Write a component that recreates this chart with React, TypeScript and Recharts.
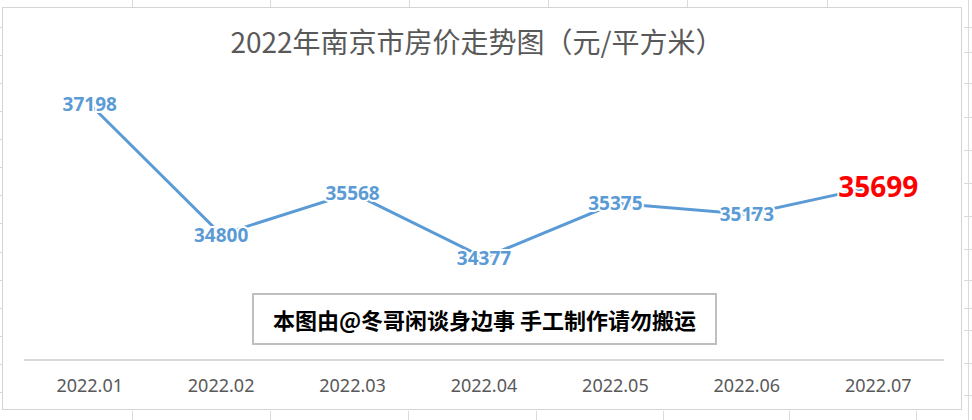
import React from 'react';
import { LineChart, Line, XAxis, YAxis, LabelList } from 'recharts';

const months = ['2022.01', '2022.02', '2022.03', '2022.04', '2022.05', '2022.06', '2022.07'];
const prices = [37198, 34800, 35568, 34377, 35375, 35173, 35699];
const titleText = '2022年南京市房价走势图（元/平方米）';
const watermarkText = '本图由@冬哥闲谈身边事 手工制作请勿搬运';
const yDomain = [32500, 37500];

const data = months.map((m, i) => ({ month: m, price: prices[i] }));

const BLUE = '#5b9bd5';
const GRID = '#dadada';

const topCols = [132, 270, 409, 548, 687, 827];
const bottomCols = [132, 270, 408, 536, 663, 789, 916];
const rightRows = [27, 52, 83, 117, 150, 183, 216, 249, 280, 308, 330, 363, 395];
const leftRows = [27, 55, 83, 111, 139, 167, 195, 223, 252, 280, 308, 336, 364, 392];

const PriceLabel = (props: any) => {
  const { x, y, value, index } = props;
  const last = index === prices.length - 1;
  return (
    <text
      x={x}
      y={y}
      textAnchor="middle"
      dominantBaseline="central"
      fill={last ? '#ff0000' : BLUE}
      fontSize={last ? 28 : 19}
      fontWeight={700}
      fontFamily="'Noto Sans', 'Open Sans', sans-serif"
      stroke="#ffffff"
      strokeWidth={4}
      paintOrder="stroke"
    >
      {value}
    </text>
  );
};

export default function App() {
  return (
    <div
      style={{
        position: 'absolute',
        left: 0,
        top: 0,
        width: 972,
        height: 420,
        background: '#ffffff',
        overflow: 'hidden',
        fontFamily: "'Noto Sans CJK SC', 'Noto Sans', sans-serif",
      }}
    >
      {topCols.map((x) => (
        <div key={'t' + x} style={{ position: 'absolute', left: x, top: 0, width: 1, height: 8, background: GRID }} />
      ))}
      {bottomCols.map((x) => (
        <div key={'b' + x} style={{ position: 'absolute', left: x, top: 411, width: 1, height: 9, background: GRID }} />
      ))}
      {rightRows.map((y) => (
        <div key={'r' + y} style={{ position: 'absolute', left: 964, top: y, width: 8, height: 1, background: GRID }} />
      ))}
      {leftRows.map((y) => (
        <div key={'l' + y} style={{ position: 'absolute', left: 0, top: y, width: 2, height: 1, background: GRID }} />
      ))}
      <div style={{ position: 'absolute', left: 968, top: 0, width: 1, height: 420, background: GRID }} />
      <div
        style={{
          position: 'absolute',
          left: 2,
          top: 7,
          width: 958,
          height: 401,
          border: '1.5px solid #d4d4d4',
          background: '#ffffff',
        }}
      />
      <div style={{ position: 'absolute', left: 0, top: 0 }}>
        <LineChart width={972} height={420} data={data} margin={{ top: 87.5, right: 28, bottom: 30, left: 24 }}>
          <XAxis
            dataKey="month"
            scale="band"
            height={30}
            axisLine={{ stroke: '#d9d9d9', strokeWidth: 2 }}
            tickLine={false}
            tickSize={0}
            tickMargin={19}
            tick={{ fill: '#595959', fontSize: 18, fontFamily: "'Noto Sans', 'Open Sans', sans-serif" }}
            interval={0}
          />
          <YAxis hide domain={yDomain} />
          <Line
            dataKey="price"
            stroke={BLUE}
            strokeWidth={3}
            dot={false}
            activeDot={false}
            isAnimationActive={false}
          >
            <LabelList dataKey="price" content={PriceLabel} />
          </Line>
        </LineChart>
      </div>
      <div
        style={{
          position: 'absolute',
          left: 0,
          width: 954,
          top: 22,
          textAlign: 'center',
          fontSize: 28,
          lineHeight: '38px',
          color: '#595959',
          whiteSpace: 'nowrap',
        }}
      >
        {titleText}
      </div>
      <div
        style={{
          position: 'absolute',
          left: 252,
          top: 293,
          width: 461,
          height: 48,
          border: '2px solid #bfbfbf',
          background: '#ffffff',
          display: 'flex',
          alignItems: 'center',
          justifyContent: 'center',
          fontSize: 22,
          fontWeight: 700,
          color: '#000000',
          whiteSpace: 'nowrap',
        }}
      >
        {watermarkText}
      </div>
    </div>
  );
}
